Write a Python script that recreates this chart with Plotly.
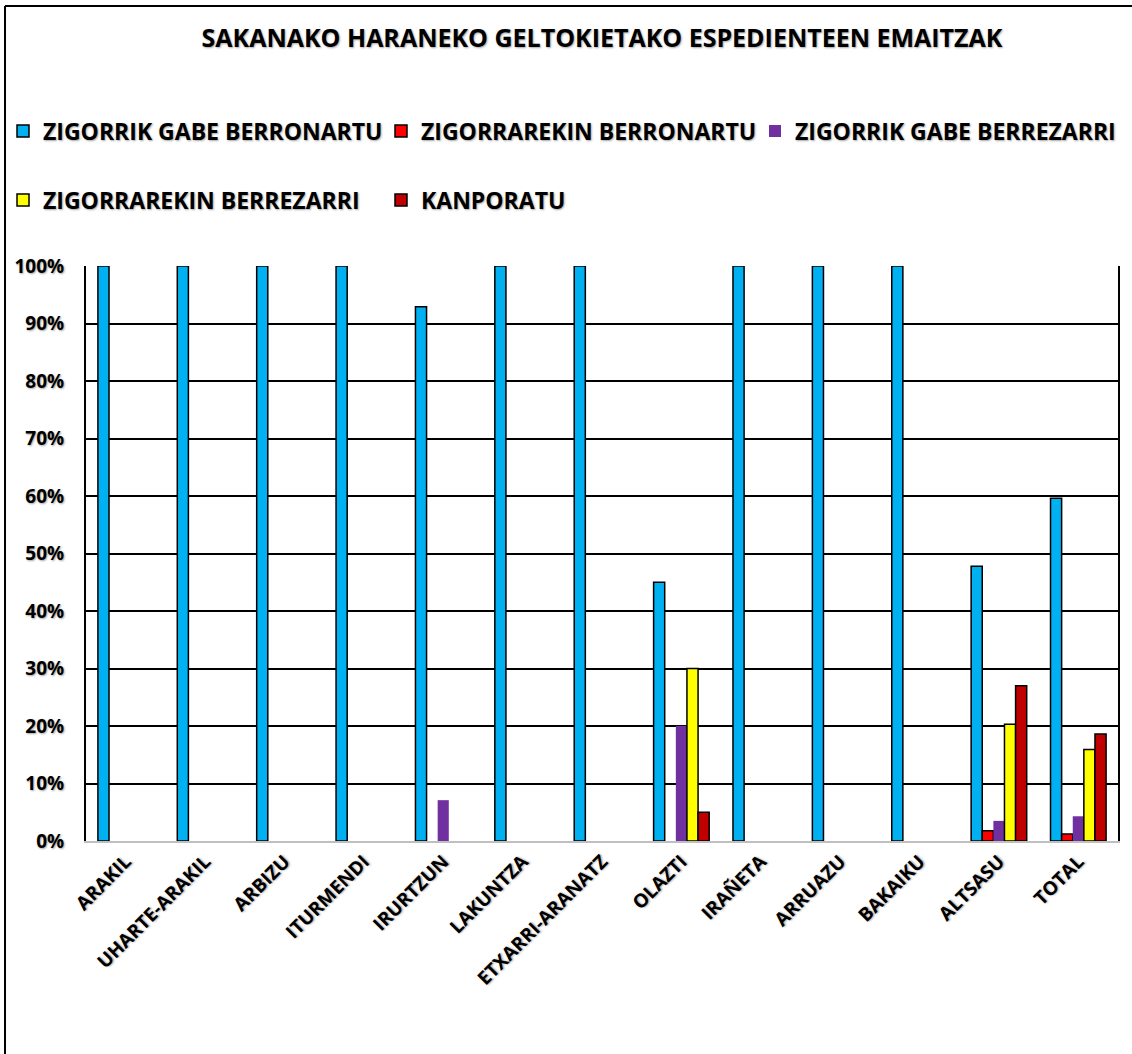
import plotly.graph_objects as go

categories = ["ARAKIL", "UHARTE-ARAKIL", "ARBIZU", "ITURMENDI", "IRURTZUN", "LAKUNTZA",
              "ETXARRI-ARANATZ", "OLAZTI", "IRAÑETA", "ARRUAZU", "BAKAIKU", "ALTSASU", "TOTAL"]
series_names = ["ZIGORRIK GABE BERRONARTU", "ZIGORRAREKIN BERRONARTU", "ZIGORRIK GABE BERREZARRI",
                "ZIGORRAREKIN BERREZARRI", "KANPORATU"]
zigorrik_gabe_berronartu = [100, 100, 100, 100, 92.9, 100, 100, 45.0, 100, 100, 100, 47.8, 59.6]
zigorrarekin_berronartu = [0, 0, 0, 0, 0, 0, 0, 0, 0, 0, 0, 1.8, 1.2]
zigorrik_gabe_berrezarri = [0, 0, 0, 0, 7.1, 0, 0, 20.0, 0, 0, 0, 3.5, 4.3]
zigorrarekin_berrezarri = [0, 0, 0, 0, 0, 0, 0, 30.0, 0, 0, 0, 20.3, 15.9]
kanporatu = [0, 0, 0, 0, 0, 0, 0, 5.0, 0, 0, 0, 27.0, 18.6]
y_ticks = [0, 10, 20, 30, 40, 50, 60, 70, 80, 90, 100]
y_tick_labels = ["0%", "10%", "20%", "30%", "40%", "50%", "60%", "70%", "80%", "90%", "100%"]

colors = ["#00B0F0", "#FF0000", "#7030A0", "#FFFF00", "#C00000"]
outlines = ["black", "black", "rgba(0,0,0,0)", "black", "black"]
all_values = [zigorrik_gabe_berronartu, zigorrarekin_berronartu, zigorrik_gabe_berrezarri,
              zigorrarekin_berrezarri, kanporatu]
# legend slot (left pixel, center pixel row) for each series
legend_slots = [(3, 131), (381, 131), (755, 131), (3, 200), (381, 200)]

FONT = "Open Sans"
SHADOW = "1px 1px 2px rgba(0,0,0,0.35)"

W, H = 1132, 1054
L, R, T, B = 86, 14, 266, 213
pw, ph = W - L - R, H - T - B

def px_x(x):
    return (x - L) / pw

def px_y(y):
    return (H - B - y) / ph

fig = go.Figure()
legend_font = dict(size=23, family=FONT, weight="bold", shadow=SHADOW)
legend_layouts = {}
for i, (name, vals, c, oc, slot) in enumerate(zip(series_names, all_values, colors, outlines, legend_slots)):
    lg = "legend" if i == 0 else f"legend{i + 1}"
    fig.add_trace(go.Bar(
        x=categories, y=[v if v else None for v in vals], name=name, legend=lg,
        marker=dict(color=c, line=dict(color=oc, width=1.5)),
    ))
    legend_layouts[lg] = dict(
        orientation="h", x=px_x(slot[0]), xref="paper", xanchor="left",
        y=px_y(slot[1]), yanchor="middle", font=legend_font,
        itemclick=False, bgcolor="rgba(0,0,0,0)",
    )

fig.update_layout(
    width=W, height=H,
    margin=dict(l=L, r=R, t=T, b=B, autoexpand=False),
    paper_bgcolor="white", plot_bgcolor="white",
    barmode="group", bargap=0.3, bargroupgap=0.0,
    font=dict(family=FONT, color="black"),
    title=dict(text="<b>SAKANAKO HARANEKO GELTOKIETAKO ESPEDIENTEEN EMAITZAK</b>",
               x=0.5, xref="paper", xanchor="center",
               y=1 - 38 / H, yanchor="middle",
               font=dict(size=25, family=FONT, shadow=SHADOW)),
    showlegend=True,
    **legend_layouts,
)

fig.update_yaxes(
    range=[0, 100], tickvals=y_ticks, ticktext=y_tick_labels,
    showgrid=True, gridcolor="black", gridwidth=1.5,
    showline=True, linecolor="black", linewidth=2, mirror=True,
    ticks="", ticklabelstandoff=16,
    tickfont=dict(size=19, family=FONT, weight="bold", shadow=SHADOW),
    zeroline=False, fixedrange=True,
)
fig.update_xaxes(
    showline=True, linecolor="#BFBFBF", linewidth=2,
    tickangle=-45, ticks="",
    tickfont=dict(size=19, family=FONT, weight="bold", shadow=SHADOW),
    fixedrange=True,
)

# outer chart border (left and top visible)
fig.add_shape(type="line", xref="paper", yref="paper",
              x0=px_x(5), x1=px_x(5), y0=px_y(6), y1=px_y(H + 5),
              line=dict(color="black", width=2))
fig.add_shape(type="line", xref="paper", yref="paper",
              x0=px_x(5), x1=px_x(W + 5), y0=px_y(6), y1=px_y(6),
              line=dict(color="black", width=2))

fig.write_html("out.html", config={"displayModeBar": False},
               post_script="document.body.style.margin='0';")
